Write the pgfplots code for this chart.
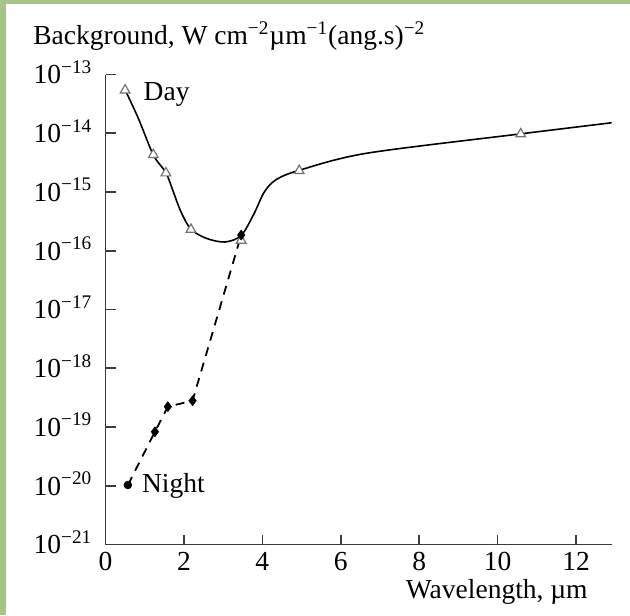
\documentclass[border=0pt]{standalone}
\usepackage{fontspec}
\setmainfont{Liberation Serif}
\usepackage{pgfplots}
\pgfplotsset{compat=1.18}

\definecolor{slidegreen}{RGB}{166,196,134}
\definecolor{axisgray}{RGB}{60,60,60}

\begin{document}
\fontsize{13.75}{16}\selectfont
\begin{tikzpicture}
    % page frame (reference shows a green strip on the left and top)
    \path[use as bounding box] (-52.75pt,-35.25pt) rectangle (262.25pt,272.25pt);
    \fill[slidegreen] (-52.75pt,-35.25pt) rectangle (-49.75pt,272.25pt);
    \fill[slidegreen] (-52.75pt,270.25pt) rectangle (262.25pt,272.25pt);

    \begin{axis}[
        at={(0pt,0pt)}, anchor=south west,
        scale only axis,
        width=253.1pt, height=235pt,
        xmin=0, xmax=12.91,
        ymode=log, ymin=1e-21, ymax=1e-13,
        axis lines*=left,
        axis line style={draw=axisgray, line width=0.8pt},
        tick style={draw=axisgray, line width=0.8pt},
        tick align=inside,
        major tick length=5pt,
        xtick={0,2,4,6,8,10,12},
        xticklabels={0,2,4,6,8,10,12},
        ytick={1e-21,1e-20,1e-19,1e-18,1e-17,1e-16,1e-15,1e-14,1e-13},
        yticklabels={10\textsuperscript{−21},10\textsuperscript{−20},10\textsuperscript{−19},
                     10\textsuperscript{−18},10\textsuperscript{−17},10\textsuperscript{−16},
                     10\textsuperscript{−15},10\textsuperscript{−14},10\textsuperscript{−13}},
        yminorticks=false,
        tick label style={font=\fontsize{13.75}{16}\selectfont},
        xticklabel style={anchor=north, inner sep=0pt, yshift=-3.8pt},
        yticklabel style={anchor=base east, inner sep=0pt, xshift=-6.4pt, yshift=-4.65pt},
    ]

    % Day curve
    \addplot[black, line width=0.8pt, smooth, tension=0.5, no marks] coordinates {
        (0.50,5.5e-14) (0.84,1.78e-14) (1.22,4.27e-15) (1.54,2.14e-15)
        (1.72,1.05e-15) (1.92,4.68e-16) (2.18,2.32e-16) (2.58,1.62e-16)
        (3.05,1.41e-16) (3.46,1.82e-16) (3.78,4.17e-16) (4.05,1.0e-15)
        (4.35,1.62e-15) (4.94,2.34e-15) (6.66,4.57e-15) (10.59,9.77e-15)
        (12.91,1.51e-14)
    };
    % Day measurements
    \addplot[only marks, mark=triangle*, mark size=2.8pt,
             mark options={draw=black!55, fill=white, line width=0.6pt}] coordinates {
        (0.50,5.4e-14) (1.22,4.3e-15) (1.54,2.1e-15) (2.18,2.3e-16)
        (3.46,1.5e-16) (4.94,2.3e-15) (10.59,9.7e-15)
    };

    % Night
    \addplot[black, line width=0.9pt, dash pattern=on 4.5pt off 3.5pt, no marks] coordinates {
        (0.57,1.03e-20) (1.26,8.3e-20) (1.59,2.22e-19) (2.22,2.8e-19) (3.46,1.85e-16)
    };
    \addplot[only marks, mark=*, mark size=1.9pt, black] coordinates {
        (0.57,1.03e-20)
    };
    \addplot[only marks, mark=diamond*, mark size=2.4pt, black] coordinates {
        (1.26,8.3e-20) (1.59,2.22e-19) (2.22,2.8e-19) (3.46,1.85e-16)
    };

    \end{axis}

    \node[anchor=base west, inner sep=0pt] at (-36.25pt,249.75pt)
        {Background, W cm\textsuperscript{−2}µm\textsuperscript{−1}(ang.s)\textsuperscript{−2}};
    \node[anchor=base east, inner sep=0pt] at (241.25pt,-26.75pt) {Wavelength, µm};
    \node[anchor=base west, inner sep=0pt] at (18.9pt,221.9pt) {Day};
    \node[anchor=base west, inner sep=0pt] at (18.1pt,26.1pt) {Night};
\end{tikzpicture}
\end{document}
